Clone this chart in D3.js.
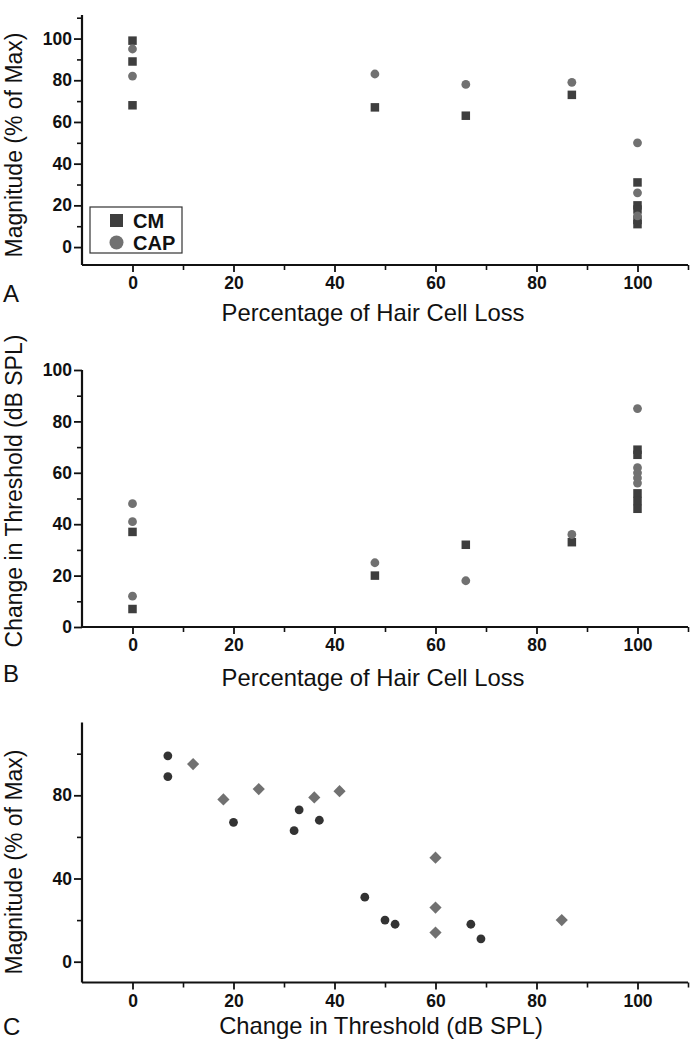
<!DOCTYPE html>
<html>
<head>
<meta charset="utf-8">
<script src="https://cdn.jsdelivr.net/npm/d3@7"></script>
<style>
  html, body { margin: 0; padding: 0; background: #fff; }
  svg { display: block; }
  text { font-family: "Liberation Sans", Arial, sans-serif; fill: #111; }
</style>
</head>
<body>
<svg id="chart" width="696" height="1050"></svg>
<script>
// ---------- DATA ----------
const xTicks = [0, 20, 40, 60, 80, 100];

// Panel A: Magnitude (% of Max) vs Percentage of Hair Cell Loss
const aCmLoss  = [0, 0, 0, 48, 66, 87, 100, 100, 100, 100, 100];
const aCmMag   = [99, 89, 68, 67, 63, 73, 31, 20, 18, 13, 11];
const aCapLoss = [0, 0, 48, 66, 87, 100, 100, 100];
const aCapMag  = [95, 82, 83, 78, 79, 50, 26, 15];
const aYTicks  = [0, 20, 40, 60, 80, 100];

// Panel B: Change in Threshold (dB SPL) vs Percentage of Hair Cell Loss
const bCmLoss  = [0, 0, 48, 66, 87, 100, 100, 100, 100, 100];
const bCmThr   = [37, 7, 20, 32, 33, 69, 67, 52, 49, 46];
const bCapLoss = [0, 0, 0, 48, 66, 87, 100, 100, 100, 100, 100];
const bCapThr  = [48, 41, 12, 25, 18, 36, 85, 62, 60, 58, 56];
const bYTicks  = [0, 20, 40, 60, 80, 100];

// Panel C: Magnitude (% of Max) vs Change in Threshold (dB SPL)
const cCmThr   = [7, 7, 20, 32, 33, 37, 46, 50, 52, 67, 69];
const cCmMag   = [99, 89, 67, 63, 73, 68, 31, 20, 18, 18, 11];
const cCapThr  = [12, 18, 25, 36, 41, 60, 60, 60, 85];
const cCapMag  = [95, 78, 83, 79, 82, 50, 26, 14, 20];
const cYTicks  = [0, 40, 80];

const legendLabels = ["CM", "CAP"];

// ---------- DRAWING ----------
const svg = d3.select("#chart");
const DARK = "#3e3e3e", LIGHT = "#717171";
const FONT_TICK = "17.5px", FONT_TITLE = "23.8px", FONT_YTITLE = "23px";

function zip(xs, ys) { return xs.map((x, i) => ({x, y: ys[i]})); }

function range(a, b, s) { const r = []; for (let v = a; v <= b + 1e-9; v += s) r.push(v); return r; }

function panel(cfg) {
  const g = svg.append("g");
  const x = d3.scaleLinear().domain([-10, 110]).range([82, 688]);
  const y = d3.scaleLinear().domain(cfg.yDomain).range([cfg.bottom, cfg.top]);

  // minor ticks
  const xMinor = range(-10, 110, 10).filter(v => !xTicks.includes(v) && v > -10);
  g.append("g").attr("transform", `translate(0,${cfg.bottom})`)
    .call(d3.axisBottom(x).tickValues(xMinor).tickSize(5).tickFormat(""))
    .call(a => a.select(".domain").remove())
    .call(a => a.selectAll("line").attr("stroke", "#111").attr("stroke-width", 1.6));
  g.append("g").attr("transform", `translate(82,0)`)
    .call(d3.axisLeft(y).tickValues(cfg.yMinor).tickSize(5).tickFormat(""))
    .call(a => a.select(".domain").remove())
    .call(a => a.selectAll("line").attr("stroke", "#111").attr("stroke-width", 1.6));

  // major x axis
  const xa = g.append("g").attr("transform", `translate(0,${cfg.bottom})`)
    .call(d3.axisBottom(x).tickValues(xTicks).tickSize(7).tickPadding(5).tickSizeOuter(0));
  xa.select(".domain").attr("stroke", "#111").attr("stroke-width", 2.2)
    .attr("d", `M82,0H688`);
  xa.selectAll("line").attr("stroke", "#111").attr("stroke-width", 1.8);
  xa.selectAll("text").style("font-size", FONT_TICK).style("font-weight", "bold").attr("fill", "#111");

  // major y axis
  const ya = g.append("g").attr("transform", `translate(82,0)`)
    .call(d3.axisLeft(y).tickValues(cfg.yTicks).tickSize(8).tickPadding(2).tickSizeOuter(0));
  ya.select(".domain").attr("stroke", "#111").attr("stroke-width", 2.2)
    .attr("d", `M0,${cfg.top}V${cfg.bottom}`);
  ya.selectAll("line").attr("stroke", "#111").attr("stroke-width", 1.8);
  ya.selectAll("text").style("font-size", FONT_TICK).style("font-weight", "bold").attr("fill", "#111");

  // titles
  g.append("text").attr("x", cfg.xTitleX).attr("y", cfg.xTitleY).attr("text-anchor", "middle")
    .style("font-size", FONT_TITLE).text(cfg.xTitle);
  g.append("text").attr("transform", `translate(22,${cfg.yTitleC}) rotate(-90)`)
    .attr("text-anchor", "middle").style("font-size", FONT_YTITLE).text(cfg.yTitle);
  g.append("text").attr("x", 3).attr("y", cfg.letterY)
    .style("font-size", "24px").style("font-weight", "300").attr("fill", "#222").text(cfg.letter);

  return {g, x, y};
}

function squares(p, data, size, color) {
  p.g.selectAll(null).data(data).enter().append("rect")
    .attr("x", d => p.x(d.x) - size / 2).attr("y", d => p.y(d.y) - size / 2)
    .attr("width", size).attr("height", size).attr("fill", color);
}
function circles(p, data, r, color) {
  p.g.selectAll(null).data(data).enter().append("circle")
    .attr("cx", d => p.x(d.x)).attr("cy", d => p.y(d.y)).attr("r", r).attr("fill", color);
}
function diamonds(p, data, size, color) {
  const sym = d3.symbol().type(d3.symbolDiamond2).size(size);
  p.g.selectAll(null).data(data).enter().append("path")
    .attr("transform", d => `translate(${p.x(d.x)},${p.y(d.y)})`)
    .attr("d", sym).attr("fill", color);
}

// Panel A
const pA = panel({
  yDomain: [-8.6, 111.3], top: 15, bottom: 265,
  yTicks: aYTicks, yMinor: [10, 30, 50, 70, 90, 110],
  xTitle: "Percentage of Hair Cell Loss", xTitleX: 373, xTitleY: 321,
  yTitle: "Magnitude (% of Max)", yTitleC: 145,
  letter: "A", letterY: 302
});
squares(pA, zip(aCmLoss, aCmMag), 8.5, DARK);
circles(pA, zip(aCapLoss, aCapMag), 4.4, LIGHT);

// Legend
pA.g.append("rect").attr("x", 90).attr("y", 207).attr("width", 92).attr("height", 46)
  .attr("fill", "#fff").attr("stroke", "#333").attr("stroke-width", 1.2);
pA.g.append("rect").attr("x", 110).attr("y", 214).attr("width", 13).attr("height", 13).attr("fill", DARK);
pA.g.append("circle").attr("cx", 116.5).attr("cy", 242.5).attr("r", 7).attr("fill", LIGHT);
pA.g.selectAll(".leg").data(legendLabels).enter().append("text")
  .attr("x", 133).attr("y", (d, i) => 228 + i * 22)
  .style("font-size", "20px").style("font-weight", "bold").text(d => d);

// Panel B
const pB = panel({
  yDomain: [0, 100], top: 370, bottom: 627,
  yTicks: bYTicks, yMinor: [10, 30, 50, 70, 90],
  xTitle: "Percentage of Hair Cell Loss", xTitleX: 373, xTitleY: 686,
  yTitle: "Change in Threshold (dB SPL)", yTitleC: 491,
  letter: "B", letterY: 682
});
squares(pB, zip(bCmLoss, bCmThr), 8.5, DARK);
circles(pB, zip(bCapLoss, bCapThr), 4.4, LIGHT);

// Panel C
const pC = panel({
  yDomain: [-10, 115], top: 722.5, bottom: 982.5,
  yTicks: cYTicks, yMinor: [20, 60, 100],
  xTitle: "Change in Threshold (dB SPL)", xTitleX: 381, xTitleY: 1034,
  yTitle: "Magnitude (% of Max)", yTitleC: 862,
  letter: "C", letterY: 1035
});
circles(pC, zip(cCmThr, cCmMag), 4.4, "#333");
diamonds(pC, zip(cCapThr, cCapMag), 95, LIGHT);
</script>
</body>
</html>
